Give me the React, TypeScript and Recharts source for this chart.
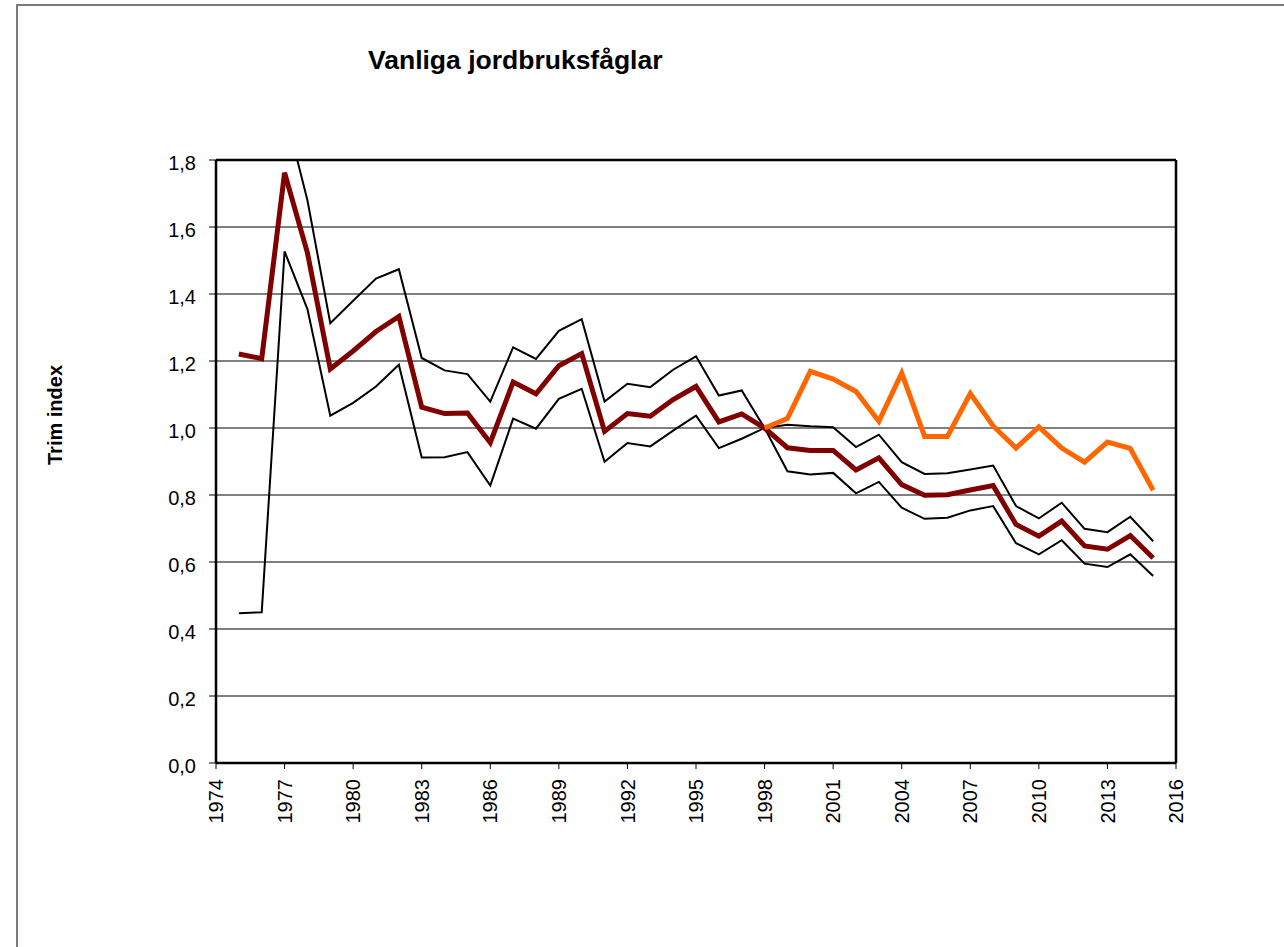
import { CartesianGrid, Line, LineChart, ReferenceLine, XAxis, YAxis } from 'recharts'

const years = [
  1975, 1976, 1977, 1978, 1979, 1980, 1981, 1982, 1983, 1984, 1985, 1986, 1987, 1988,
  1989, 1990, 1991, 1992, 1993, 1994, 1995, 1996, 1997, 1998, 1999, 2000, 2001, 2002,
  2003, 2004, 2005, 2006, 2007, 2008, 2009, 2010, 2011, 2012, 2013, 2014, 2015,
]

const trimIndex = [
  1.221, 1.207, 1.762, 1.523, 1.176, 1.23, 1.288, 1.333, 1.062, 1.043, 1.045, 0.956, 1.137, 1.102,
  1.186, 1.222, 0.99, 1.043, 1.035, 1.085, 1.124, 1.018, 1.042, 1.0, 0.941, 0.933, 0.933, 0.875,
  0.911, 0.831, 0.799, 0.801, 0.815, 0.828, 0.712, 0.677, 0.722, 0.648, 0.638, 0.679, 0.612,
]

// upper confidence limit, 1975-76 lie far above the plot
const upperLimit = [
  null, null, 1.95, 1.68, 1.313, 1.38, 1.446, 1.474, 1.209, 1.172, 1.161, 1.079, 1.241, 1.206,
  1.29, 1.325, 1.079, 1.132, 1.122, 1.174, 1.214, 1.097, 1.112, 1.0, 1.01, 1.005, 1.002, 0.943,
  0.98, 0.898, 0.863, 0.865, 0.876, 0.888, 0.767, 0.73, 0.777, 0.699, 0.689, 0.735, 0.662,
]

const lowerLimit = [
  0.447, 0.45, 1.527, 1.355, 1.037, 1.075, 1.124, 1.189, 0.912, 0.913, 0.928, 0.828, 1.028, 0.998,
  1.087, 1.117, 0.899, 0.955, 0.945, 0.992, 1.037, 0.94, 0.968, 1.0, 0.871, 0.861, 0.866, 0.805,
  0.839, 0.762, 0.729, 0.732, 0.754, 0.767, 0.656, 0.623, 0.665, 0.595, 0.585, 0.623, 0.558,
]

// second index, starting in 1998
const index1998Start = 1998
const index1998 = [
  1.0, 1.028, 1.169, 1.146, 1.109, 1.02, 1.164, 0.975, 0.975, 1.103, 1.006, 0.94, 1.003, 0.94,
  0.898, 0.958, 0.939, 0.814,
]

const xTicks = [1974, 1977, 1980, 1983, 1986, 1989, 1992, 1995, 1998, 2001, 2004, 2007, 2010, 2013, 2016]
const yTicks = [0, 0.2, 0.4, 0.6, 0.8, 1.0, 1.2, 1.4, 1.6, 1.8]

const FONT = '"Liberation Sans", Arial, sans-serif'

const data = years.map((year, i) => ({
  year,
  mean: trimIndex[i],
  upper: upperLimit[i],
  lower: lowerLimit[i],
  second: year >= index1998Start ? index1998[year - index1998Start] : null,
}))

const YTick = ({ x, y, payload }: any) => (
  <text x={x} y={y} dy={9.5} textAnchor="end" fontSize={20} fontFamily={FONT} fill="#000">
    {Number(payload.value).toFixed(1).replace('.', ',')}
  </text>
)

const XTick = ({ x, y, payload }: any) => (
  <text
    x={x}
    y={y}
    dy="0.36em"
    transform={`rotate(-90 ${x} ${y})`}
    textAnchor="end"
    fontSize={20}
    fontFamily={FONT}
    fill="#000"
  >
    {payload.value}
  </text>
)

export default function App() {
  return (
    <div style={{ position: 'absolute', left: 0, top: 0, width: 1284, height: 947, overflow: 'hidden', background: '#fff' }}>
      <div
        style={{
          position: 'absolute',
          left: 16,
          top: 4,
          width: 1300,
          height: 1000,
          borderLeft: '2px solid #7a7a7a',
          borderTop: '2px solid #7a7a7a',
        }}
      />
      <svg width={1284} height={947} style={{ position: 'absolute', left: 0, top: 0 }}>
        <text x={368} y={69} fontSize={26.5} fontWeight="bold" fontFamily={FONT} fill="#000">
          Vanliga jordbruksfåglar
        </text>
        <text
          x={62}
          y={415}
          transform="rotate(-90 62 415)"
          textAnchor="middle"
          fontSize={20}
          fontWeight="bold"
          fontFamily={FONT}
          fill="#000"
        >
          Trim index
        </text>
      </svg>
      <div style={{ position: 'absolute', left: 0, top: 0 }}>
        <LineChart width={1284} height={947} data={data} margin={{ top: 160, right: 108, bottom: 0, left: 0 }}>
          <CartesianGrid vertical={false} stroke="#000" strokeWidth={1} />
          <XAxis
            dataKey="year"
            type="number"
            domain={[1974, 2016]}
            ticks={xTicks}
            interval={0}
            height={184}
            tickSize={6}
            tickMargin={10}
            tick={<XTick />}
            axisLine={{ stroke: '#000', strokeWidth: 2.5 }}
            tickLine={{ stroke: '#000' }}
          />
          <YAxis
            type="number"
            domain={[0, 1.8]}
            allowDataOverflow
            ticks={yTicks}
            interval={0}
            width={216}
            tickSize={7}
            tickMargin={13}
            tick={<YTick />}
            axisLine={{ stroke: '#000', strokeWidth: 2.5 }}
            tickLine={{ stroke: '#000' }}
          />
          <Line dataKey="upper" type="linear" stroke="#000" strokeWidth={2} dot={false} isAnimationActive={false} />
          <Line dataKey="lower" type="linear" stroke="#000" strokeWidth={2} dot={false} isAnimationActive={false} />
          <Line dataKey="mean" type="linear" stroke="#800000" strokeWidth={5} dot={false} isAnimationActive={false} />
          <Line dataKey="second" type="linear" stroke="#ff6600" strokeWidth={5} dot={false} isAnimationActive={false} />
          <ReferenceLine y={1.8} stroke="#000" strokeWidth={2.5} ifOverflow="visible" />
          <ReferenceLine x={2016} stroke="#000" strokeWidth={2.5} ifOverflow="visible" />
        </LineChart>
      </div>
    </div>
  )
}
